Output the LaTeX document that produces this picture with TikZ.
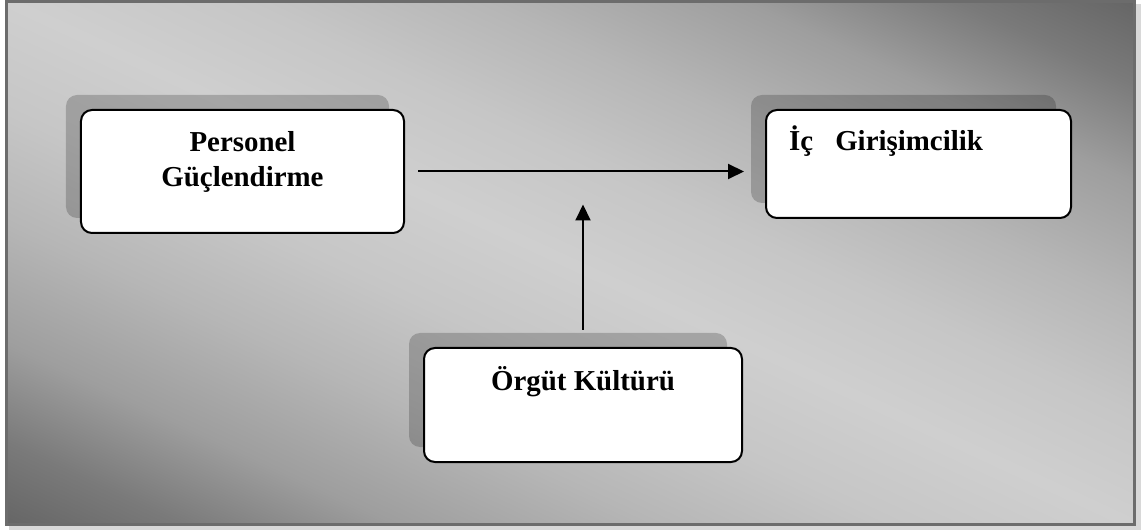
\documentclass[tikz,border=0pt]{standalone}
\usepackage{fontspec}
\setmainfont{Liberation Serif}
\usetikzlibrary{positioning,shadows,arrows.meta}

\definecolor{frameGray}{HTML}{6C6C6C}
\definecolor{outerGray}{HTML}{D8D8D8}
\definecolor{bgDark}{HTML}{646464}
\definecolor{bgMidDark}{HTML}{7A7A7A}
\definecolor{bgMid}{HTML}{9E9E9E}
\definecolor{bgMidLight}{HTML}{B6B6B6}
\definecolor{bgNear}{HTML}{C6C6C6}
\definecolor{bgLight}{HTML}{CFCFCF}

\pgfdeclareverticalshading{diagBand}{1300bp}{%
  color(0bp)=(bgDark); color(20bp)=(bgDark); color(100bp)=(bgMidDark);
  color(190bp)=(bgMid); color(300bp)=(bgMidLight); color(400bp)=(bgNear);
  color(500bp)=(bgLight);
  color(600bp)=(bgNear); color(700bp)=(bgMidLight); color(810bp)=(bgMid);
  color(900bp)=(bgMidDark); color(980bp)=(bgDark); color(1000bp)=(bgDark)}

\tikzset{
  frame/.style={draw=frameGray, line width=3bp},
  box/.style={draw=black, line width=2bp, fill=white, rounded corners=11bp, inner sep=0pt,
    general shadow={fill=black, opacity=0.2, shadow xshift=-15bp, shadow yshift=15bp}},
  boxText/.style={font=\bfseries\fontsize{29}{36}\selectfont, inner sep=0pt, align=center},
  arrow/.style={-{Triangle[length=16bp,width=15bp]}, line width=2bp},
}

\begin{document}
\begin{tikzpicture}[x=1bp, y=-1bp]
    \pgfmathsetmacro{\frameLeft}{6}
    \pgfmathsetmacro{\frameTop}{1.5}
    \pgfmathsetmacro{\frameRight}{1134.5}
    \pgfmathsetmacro{\frameBottom}{524}
    \pgfmathsetmacro{\textDrop}{42}

    \useasboundingbox (0,0) rectangle (1141,530);

    % Schatten des Rahmens
    \fill[outerGray] (\frameLeft+3,\frameTop+3) rectangle (1141,530);

    % Hintergrund
    \begin{scope}
      \clip (\frameLeft,\frameTop) rectangle (\frameRight,\frameBottom);
      \node[inner sep=0pt, rotate=-24.9] (bgShade) at (570.5,263) {\pgfuseshading{diagBand}};
    \end{scope}

    % Rahmen
    \draw[frame] (\frameLeft,\frameTop) rectangle (\frameRight,\frameBottom);

    % Kaesten
    \node[box, minimum width=323bp, minimum height=123bp] (pg) at (242.5,171.5) {};
    \node[box, minimum width=305bp, minimum height=108bp] (ic) at (918.5,164) {};
    \node[box, minimum width=318bp, minimum height=114bp] (ok) at (583,405) {};

    % Beschriftung
    \node[boxText, anchor=base] (pgText) at ([yshift=-78bp]pg.north) {Personel\\Güçlendirme};
    \node[boxText, anchor=base west] (icText) at ([xshift=24bp, yshift=-\textDrop bp]ic.north west) {İç\hspace{22bp}Girişimcilik};
    \node[boxText, anchor=base] (okText) at ([yshift=-44bp]ok.north) {Örgüt Kültürü};

    % Pfeile
    \coordinate (hit) at (ok.north |- pg.east);
    \draw[arrow, shorten <=13bp, shorten >=21bp] (pg.east) -- (pg.east -| ic.west);
    \draw[arrow, shorten <=17bp, shorten >=33bp] (ok.north) -- (hit);
\end{tikzpicture}
\end{document}
